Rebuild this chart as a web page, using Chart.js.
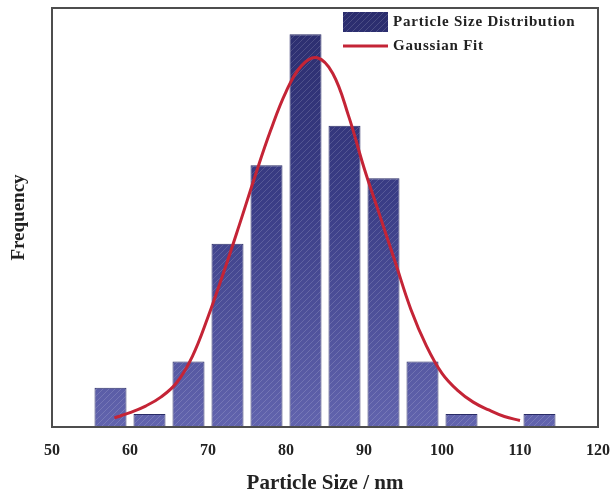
<!DOCTYPE html>
<html>
<head>
<meta charset="utf-8">
<script src="https://cdn.jsdelivr.net/npm/chart.js@4.4.0/dist/chart.umd.min.js"></script>
<style>
  body { margin: 0; background: #fff; }
  #wrap { width: 616px; height: 500px; }
</style>
</head>
<body>
<div id="wrap"><canvas id="sizeChart" width="616" height="500"></canvas></div>
<script>
// histogram bins (nm, centre of each 5 nm bin) and counts
const binCentres = [57.5, 62.5, 67.5, 72.5, 77.5, 82.5, 87.5, 92.5, 97.5, 102.5, 107.5, 112.5];
const binCounts = [3, 1, 5, 14, 20, 30, 23, 19, 5, 1, 0, 1];

// fitted curve, read along its length
const fitSizes = [58, 60, 62, 64, 66, 68, 70, 72, 74, 76, 78, 80, 82, 84, 86, 88, 90, 92, 94, 96, 98, 100, 102, 104, 106, 108, 110];
const fitValues = [0.7, 1.1, 1.6, 2.3, 3.4, 5.4, 8.4, 11.8, 15.4, 19.1, 22.6, 25.6, 27.6, 28.2, 27.0, 23.8, 19.8, 16.2, 12.6, 9.0, 6.2, 4.1, 2.8, 1.9, 1.3, 0.8, 0.5];

const xTicks = [50, 60, 70, 80, 90, 100, 110, 120];

const serif = "'Liberation Serif', 'DejaVu Serif', serif";
const fitColor = "#c42436";

const canvas = document.getElementById("sizeChart");
const ctx = canvas.getContext("2d");

// vertical gradient with faint diagonal hatching, as one repeating tile
function makeBarFill(height) {
  const tile = document.createElement("canvas");
  tile.width = 6;
  tile.height = height;
  const t = tile.getContext("2d");
  const grad = t.createLinearGradient(0, 0, 0, height);
  grad.addColorStop(0, "#2a2c6c");
  grad.addColorStop(0.4, "#3a3d86");
  grad.addColorStop(1, "#6e70ba");
  t.fillStyle = grad;
  t.fillRect(0, 0, 6, height);
  t.strokeStyle = "rgba(255,255,255,0.15)";
  t.lineWidth = 1;
  for (let y = -6; y < height + 6; y += 6) {
    t.beginPath();
    t.moveTo(0, y + 6);
    t.lineTo(6, y);
    t.stroke();
  }
  return ctx.createPattern(tile, "repeat");
}
const barFill = makeBarFill(500);

const barData = binCentres.map((x, i) => ({ x: x, y: binCounts[i] }));
const fitData = fitSizes.map((x, i) => ({ x: x, y: fitValues[i] }));

// frame around the plot plus the legend in the top right corner
const framePlugin = {
  id: "frame",
  afterDraw(chart) {
    const a = chart.chartArea;
    const c = chart.ctx;
    c.save();
    c.strokeStyle = "#4d4d4d";
    c.lineWidth = 2;
    c.strokeRect(a.left, a.top, a.right - a.left, a.bottom - a.top);

    const lx = a.right - 255;
    const ly = a.top + 4;
    c.fillStyle = barFill;
    c.fillRect(lx, ly, 45, 20);
    c.strokeStyle = fitColor;
    c.lineWidth = 3;
    c.beginPath();
    c.moveTo(lx, ly + 34);
    c.lineTo(lx + 45, ly + 34);
    c.stroke();

    c.fillStyle = "#222";
    c.font = "bold 15px " + serif;
    c.letterSpacing = "0.8px";
    c.textBaseline = "middle";
    c.fillText("Particle Size Distribution", lx + 50, ly + 10);
    c.fillText("Gaussian Fit", lx + 50, ly + 34);
    c.restore();
  }
};

new Chart(canvas, {
  data: {
    datasets: [
      {
        type: "line",
        label: "Gaussian Fit",
        data: fitData,
        borderColor: fitColor,
        borderWidth: 3,
        pointRadius: 0,
        tension: 0.4,
        fill: false
      },
      {
        type: "bar",
        label: "Particle Size Distribution",
        data: barData,
        backgroundColor: barFill,
        borderColor: "#2a2c66",
        borderWidth: 1,
        categoryPercentage: 1,
        barPercentage: 0.82
      }
    ]
  },
  options: {
    responsive: false,
    animation: false,
    layout: { padding: { top: 8, right: 18, left: 0, bottom: 0 } },
    plugins: {
      legend: { display: false },
      tooltip: { enabled: false }
    },
    scales: {
      x: {
        type: "linear",
        min: 50,
        max: 120,
        offset: false,
        grid: { display: false, drawTicks: false, offset: false },
        border: { display: false },
        afterBuildTicks(scale) {
          scale.ticks = xTicks.map(v => ({ value: v }));
        },
        afterFit(scale) {
          scale.height = 73;
          // let the end labels hang past the frame instead of shrinking it
          scale.paddingLeft = 0;
          scale.paddingRight = 0;
        },
        ticks: {
          color: "#222",
          padding: 14,
          font: { family: serif, weight: "bold", size: 16 }
        },
        title: {
          display: true,
          text: "Particle Size / nm",
          color: "#222",
          padding: { top: 6 },
          font: { family: serif, weight: "bold", size: 21 }
        }
      },
      y: {
        min: 0,
        max: 32,
        grid: { display: false, drawTicks: false },
        border: { display: false },
        ticks: { display: false },
        afterFit(scale) { scale.width = 52; },
        title: {
          display: true,
          text: "Frequency",
          color: "#222",
          padding: { bottom: 0, top: 8 },
          font: { family: serif, weight: "bold", size: 19 }
        }
      }
    }
  },
  plugins: [framePlugin]
});
</script>
</body>
</html>
